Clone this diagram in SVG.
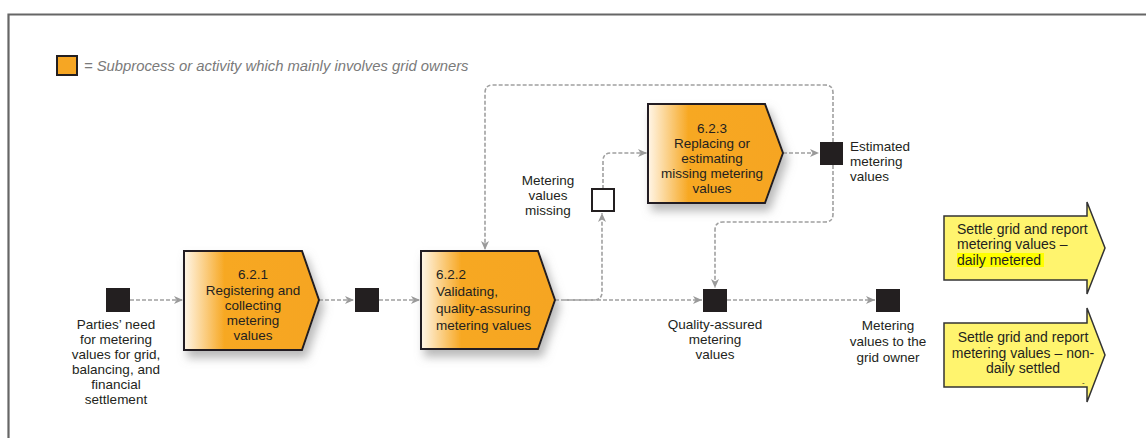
<svg xmlns="http://www.w3.org/2000/svg" width="1146" height="438" viewBox="0 0 1146 438">
<style>
text{font-family:"Liberation Sans",Arial,sans-serif;fill:#231f20;font-size:13.5px}
.c{text-anchor:middle}
.y{font-size:14px}
.legend{font-style:italic;fill:#7a7a7a;font-size:14.8px}
.proc{fill:url(#og);stroke:#231f20;stroke-width:2;filter:url(#sh)}
.sq{fill:#231f20}
.conn{fill:none;stroke:#a0a0a0;stroke-width:1.6;stroke-dasharray:4 2}
.yarrow{fill:#fff46e;stroke:#333;stroke-width:1.5}
</style>
<defs>
<linearGradient id="og" x1="0" y1="0" x2="1" y2="0">
<stop offset="0" stop-color="#fff6e8"/>
<stop offset="0.3" stop-color="#f7a823"/>
<stop offset="1" stop-color="#f6a520"/>
</linearGradient>
<filter id="sh" x="-20%" y="-20%" width="150%" height="160%">
<feDropShadow dx="4" dy="7" stdDeviation="5" flood-color="#8a8a8a" flood-opacity="0.6"/>
</filter>
<marker id="ah" markerUnits="userSpaceOnUse" markerWidth="10" markerHeight="10" refX="9" refY="4.5" orient="auto">
<path d="M0,0.5 L9,4.5 L0,8.5 L2.5,4.5 z" fill="#9a9a9a"/>
</marker>
</defs>
<rect width="1146" height="438" fill="#fff"/>
<path d="M8.5,438 V14.5 H1146" fill="none" stroke="#666" stroke-width="2.2"/>
<g id="legend">
<rect x="57" y="56" width="20" height="19" fill="#f6a623" stroke="#231f20" stroke-width="2"/>
<text class="legend" x="84" y="71">= Subprocess or activity which mainly involves grid owners</text>
</g>
<g id="connectors">
<path class="conn" d="M130,300 H183" marker-end="url(#ah)"/>
<path class="conn" d="M319,300 H354" marker-end="url(#ah)"/>
<path class="conn" d="M379,300 H420" marker-end="url(#ah)"/>
<path class="conn" d="M555,300 H702" marker-end="url(#ah)"/>
<path class="conn" d="M565,300 H594 Q602,300 602,292 V213" marker-end="url(#ah)"/>
<path class="conn" d="M603,189 V161 Q603,153 611,153 H647" marker-end="url(#ah)"/>
<path class="conn" d="M783,153 H819" marker-end="url(#ah)"/>
<path class="conn" d="M833,142 V93 Q833,85 825,85 H493 Q485,85 485,93 V250" marker-end="url(#ah)"/>
<path class="conn" d="M833,165 V214 Q833,222 825,222 H723 Q715,222 715,230 V288" marker-end="url(#ah)"/>
<path class="conn" d="M727,300 H875" marker-end="url(#ah)"/>
</g>
<g id="start-need">
<rect class="sq" x="106" y="288" width="24" height="24"/>
<text class="c" x="116" y="329">Parties’ need</text>
<text class="c" x="116" y="344">for metering</text>
<text class="c" x="116" y="359">values for grid,</text>
<text class="c" x="116" y="374">balancing, and</text>
<text class="c" x="116" y="389">financial</text>
<text class="c" x="116" y="404">settlement</text>
</g>
<g id="p621">
<polygon class="proc" points="184,251 302,251 319,300 302,350 184,350"/>
<text class="c" x="253" y="279">6.2.1</text>
<text class="c" x="253" y="295">Registering and</text>
<text class="c" x="253" y="310">collecting</text>
<text class="c" x="253" y="325">metering</text>
<text class="c" x="253" y="340">values</text>
</g>
<g id="mid-square">
<rect class="sq" x="355" y="288" width="24" height="24"/>
</g>
<g id="p622">
<polygon class="proc" points="421,251 538,251 555,300 538,349 421,349"/>
<text x="436" y="279">6.2.2</text>
<text x="436" y="296">Validating,</text>
<text x="436" y="313">quality-assuring</text>
<text x="436" y="330">metering values</text>
</g>
<g id="missing">
<rect x="592" y="189" width="22" height="22" fill="#fff" stroke="#231f20" stroke-width="2"/>
<text class="c" x="548" y="185">Metering</text>
<text class="c" x="548" y="200">values</text>
<text class="c" x="548" y="215">missing</text>
</g>
<g id="p623">
<polygon class="proc" points="648,104 765,104 783,153 765,203 648,203"/>
<text class="c" x="712" y="133">6.2.3</text>
<text class="c" x="712" y="148">Replacing or</text>
<text class="c" x="712" y="163">estimating</text>
<text class="c" x="712" y="178">missing metering</text>
<text class="c" x="712" y="193">values</text>
</g>
<g id="estimated">
<rect class="sq" x="820" y="142" width="23" height="23"/>
<text x="850" y="151">Estimated</text>
<text x="850" y="166">metering</text>
<text x="850" y="181">values</text>
</g>
<g id="quality-assured">
<rect class="sq" x="703" y="289" width="24" height="23"/>
<text class="c" x="715" y="329">Quality-assured</text>
<text class="c" x="715" y="344">metering</text>
<text class="c" x="715" y="359">values</text>
</g>
<g id="to-grid-owner">
<rect class="sq" x="876" y="289" width="24" height="23"/>
<text class="c" x="888" y="330">Metering</text>
<text class="c" x="888" y="346">values to the</text>
<text class="c" x="888" y="362">grid owner</text>
</g>
<g id="settle-daily">
<polygon class="yarrow" points="944,216 1087,216 1087,202 1105,248 1087,294 1087,280 944,280"/>
<rect x="957" y="253" width="87" height="14" fill="#ffff00"/>
<text class="y" x="957" y="234">Settle grid and report</text>
<text class="y" x="957" y="249">metering values –</text>
<text class="y" x="957" y="265">daily metered</text>
</g>
<g id="settle-nondaily">
<polygon class="yarrow" points="944,323 1087,323 1087,308 1105,355 1087,402 1087,387 944,387"/>
<text class="c y" x="1023" y="342">Settle grid and report</text>
<text class="c y" x="1023" y="358">metering values – non-</text>
<text class="c y" x="1023" y="373">daily settled</text>
<text x="1082" y="385" style="font-size:8px">-</text>
</g>
</svg>
